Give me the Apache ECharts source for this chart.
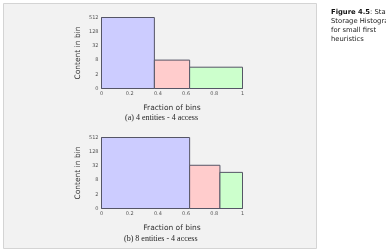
<!DOCTYPE html>
<html>
<head>
<meta charset="utf-8">
<script src="https://cdn.jsdelivr.net/npm/echarts@6/dist/echarts.min.js"></script>
<style>
  html, body { margin: 0; padding: 0; background: #fff; }
  #main { width: 386px; height: 252px; }
</style>
</head>
<body>
<div id="main"></div>
<script>
// bin edges (fraction of bins) and contents
var binStartA = [0, 0.375, 0.625];
var binEndA = [0.375, 0.625, 1];
var contentA = [512, 8, 4];

var binStartB = [0, 0.625, 0.84];
var binEndB = [0.625, 0.84, 1];
var contentB = [512, 34, 17];

var binColors = ["#ccccff", "#ffcccc", "#ccffcc"];
var yTicks = [0.5, 2, 8, 32, 128, 512];
var captions = ["(a) 4 entities - 4 access", "(b) 8 entities - 4 access"];

var YMIN = 0.5;

function makeData(s, e, c) {
	return c.map(function (v, i) {
		return { value: [s[i], e[i], v], itemStyle: { color: binColors[i] } };
	});
}

function renderBin(params, api) {
	var tl = api.coord([api.value(0), api.value(2)]);
	var br = api.coord([api.value(1), YMIN]);
	return {
		type: "rect",
		shape: { x: tl[0], y: tl[1], width: br[0] - tl[0], height: br[1] - tl[1] },
		style: { fill: api.visual("color"), stroke: "#555566", lineWidth: 1 }
	};
}

function isYTick(v) {
	return yTicks.some(function (t) { return Math.abs(t - v) < 1e-6 * t; });
}

function xAxisOf(idx) {
	return {
		type: "value",
		gridIndex: idx,
		min: 0,
		max: 1,
		interval: 0.2,
		name: "Fraction of bins",
		nameLocation: "middle",
		nameGap: 16,
		nameTextStyle: { fontSize: 7.5, color: "#333", fontFamily: "DejaVu Sans" },
		axisLine: { show: true, lineStyle: { color: "#777", width: 1 } },
		axisTick: { show: false },
		splitLine: { show: false },
		axisLabel: {
			fontSize: 5,
			color: "#555",
			margin: 3,
			fontFamily: "DejaVu Sans",
			formatter: function (v) { return String(Math.round(v * 10) / 10); }
		}
	};
}

function yAxisOf(idx) {
	return {
		type: "log",
		logBase: 2,
		gridIndex: idx,
		min: YMIN,
		max: 512,
		interval: 1,
		name: "Content in bin",
		nameLocation: "middle",
		nameGap: 19,
		nameTextStyle: { fontSize: 7.5, color: "#333", fontFamily: "DejaVu Sans" },
		axisLine: { show: true, lineStyle: { color: "#777", width: 1 } },
		axisTick: { show: false },
		splitLine: { show: false },
		minorTick: { show: false },
		axisLabel: {
			fontSize: 5,
			color: "#555",
			margin: 3,
			fontFamily: "DejaVu Sans",
			formatter: function (v) {
				if (!isYTick(v)) return "";
				return v < 1 ? "0" : String(Math.round(v));
			}
		}
	};
}

var chart = echarts.init(document.getElementById("main"), null, { renderer: "canvas" });
var option = {
	animation: false,
	backgroundColor: "#ffffff",
	graphic: [
		{
			type: "rect",
			z: -10,
			shape: { x: 3.5, y: 3.5, width: 313, height: 245 },
			style: { fill: "#f2f2f2", stroke: "#d4d4d4", lineWidth: 1 }
		},
		{
			type: "text", left: 125, top: 114,
			style: { text: captions[0], fontSize: 8, fill: "#222", fontFamily: "Liberation Serif" }
		},
		{
			type: "text", left: 124, top: 235,
			style: { text: captions[1], fontSize: 8, fill: "#222", fontFamily: "Liberation Serif" }
		},
		{
			type: "text", left: 331, top: 8,
			style: {
				text: "{b|Figure 4.5}: Static\nStorage Histogram\nfor small first\nheuristics",
				fontSize: 6.8, lineHeight: 9, fill: "#222", fontFamily: "DejaVu Sans",
				rich: { b: { fontWeight: "bold", fontSize: 6.8, fontFamily: "DejaVu Sans", fill: "#111" } }
			}
		}
	],
	grid: [
		{ left: 101.5, top: 17.5, width: 141, height: 71 },
		{ left: 101.5, top: 137.5, width: 141, height: 71 }
	],
	xAxis: [xAxisOf(0), xAxisOf(1)],
	yAxis: [yAxisOf(0), yAxisOf(1)],
	series: [
		{
			type: "custom",
			xAxisIndex: 0,
			yAxisIndex: 0,
			renderItem: renderBin,
			encode: { x: [0, 1], y: 2 },
			data: makeData(binStartA, binEndA, contentA)
		},
		{
			type: "custom",
			xAxisIndex: 1,
			yAxisIndex: 1,
			renderItem: renderBin,
			encode: { x: [0, 1], y: 2 },
			data: makeData(binStartB, binEndB, contentB)
		}
	]
};
chart.setOption(option);
window.addEventListener("resize", chart.resize);
</script>
</body>
</html>
